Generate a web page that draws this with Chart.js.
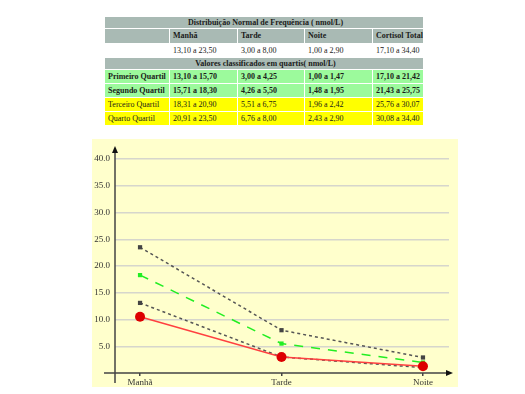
<!DOCTYPE html>
<html>
<head>
<meta charset="utf-8">
<script src="https://cdn.jsdelivr.net/npm/chart.js@4.4.1/dist/chart.umd.min.js"></script>
<style>
  html, body { margin: 0; padding: 0; background: #fff; }
  body { width: 525px; height: 394px; position: relative; overflow: hidden; }
  #tabela {
    position: absolute; left: 104px; top: 16px;
    border-collapse: separate; border-spacing: 1px; table-layout: fixed; width: 320px;
    font-family: "Liberation Serif", "DejaVu Serif", serif; font-size: 8px; color: #1a1a1a;
  }
  #tabela td { padding: 0 0 0 3px; white-space: nowrap; line-height: 10px; overflow: hidden; }
  #tabela .cab { background: #a9bab4; font-weight: bold; text-align: center; height: 11px; }
  #tabela .cab2 td { background: #a9bab4; font-weight: bold; height: 14px; }
  #tabela .branca td { background: #fff; height: 13px; }
  #tabela .verde td { background: #9cfa9c; font-weight: bold; height: 13px; }
  #tabela .amarela td { background: #ffff00; height: 13px; }
  #painel { position: absolute; left: 92px; top: 139px; width: 366px; height: 248px; background: #ffffcc; }
  #grafico { position: absolute; left: 92px; top: 139px; }
</style>
</head>
<body>
<table id="tabela"></table>
<div id="painel"></div>
<canvas id="grafico" width="366" height="248"></canvas>
<script>
// periodos do dia
var periodos = ['Manhã', 'Tarde', 'Noite']
var colunas = ['Manhã', 'Tarde', 'Noite', 'Cortisol Total']
var faixaNormal = ['13,10 a 23,50', '3,00 a 8,00', '1,00 a 2,90', '17,10 a 34,40']
var quartis = ['Primeiro Quartil', 'Segundo Quartil', 'Terceiro Quartil', 'Quarto Quartil']
var faixasQuartis = [
    ['13,10 a 15,70', '3,00 a 4,25', '1,00 a 1,47', '17,10 a 21,42'],
    ['15,71 a 18,30', '4,26 a 5,50', '1,48 a 1,95', '21,43 a 25,75'],
    ['18,31 a 20,90', '5,51 a 6,75', '1,96 a 2,42', '25,76 a 30,07'],
    ['20,91 a 23,50', '6,76 a 8,00', '2,43 a 2,90', '30,08 a 34,40']
]

// valores do grafico (nmol/L)
var paciente = [10.5, 3.0, 1.25]
var maximo = [23.5, 8.0, 2.9]
var mediana = [18.3, 5.5, 1.95]
var minimo = [13.1, 3.0, 1.0]
var ticksY = [5, 10, 15, 20, 25, 30, 35, 40]

// monta a tabela
var tab = document.getElementById('tabela')
var larguras = [64, 67, 66, 67, 50]
var html = '<colgroup>'
for (var i = 0; i < larguras.length; i++) html += '<col style="width:' + larguras[i] + 'px">'
html += '</colgroup>'
html += '<tr><td class="cab" colspan="5">Distribuição Normal de Frequência ( nmol/L)</td></tr>'
html += '<tr class="cab2"><td></td>'
for (var i = 0; i < colunas.length; i++) html += '<td>' + colunas[i] + '</td>'
html += '</tr><tr class="branca"><td></td>'
for (var i = 0; i < faixaNormal.length; i++) html += '<td>' + faixaNormal[i] + '</td>'
html += '</tr><tr><td class="cab" colspan="5">Valores classificados em quartis( nmol/L)</td></tr>'
for (var q = 0; q < quartis.length; q++) {
    html += '<tr class="' + (q < 2 ? 'verde' : 'amarela') + '"><td>' + quartis[q] + '</td>'
    for (var j = 0; j < 4; j++) html += '<td>' + faixasQuartis[q][j] + '</td>'
    html += '</tr>'
}
tab.innerHTML = html

function pontos(arr) {
    return arr.map(function (v, i) { return { x: i, y: v } })
}

// eixos com setas
var eixos = {
    id: 'eixos',
    beforeDatasetsDraw: function (chart) {
        var c = chart.ctx
        var x0 = chart.scales.x.left
        var y0 = chart.scales.y.getPixelForValue(0)
        c.save()
        c.strokeStyle = '#444'
        c.fillStyle = '#111'
        c.lineWidth = 1.5
        c.beginPath()
        c.moveTo(x0, chart.chartArea.top - 10)
        c.lineTo(x0, y0 + 10)
        c.moveTo(x0 - 11, y0)
        c.lineTo(chart.chartArea.right + 1, y0)
        c.stroke()
        c.beginPath()
        c.moveTo(x0, chart.chartArea.top - 13)
        c.lineTo(x0 - 3, chart.chartArea.top - 6)
        c.lineTo(x0 + 3, chart.chartArea.top - 6)
        c.fill()
        c.beginPath()
        c.moveTo(chart.chartArea.right + 4, y0)
        c.lineTo(chart.chartArea.right - 3, y0 - 3)
        c.lineTo(chart.chartArea.right - 3, y0 + 3)
        c.fill()
        c.restore()
    }
}

var fonte = { family: '"Liberation Serif", "DejaVu Serif", serif', size: 9 }

new Chart(document.getElementById('grafico').getContext('2d'), {
    type: 'line',
    data: {
        datasets: [
            { data: pontos(paciente), borderColor: '#ff4040', backgroundColor: '#dd0000', borderWidth: 1.5,
              pointStyle: 'circle', pointRadius: 5, pointBorderWidth: 0 },
            { data: pontos(maximo), borderColor: '#555', backgroundColor: '#444', borderWidth: 1.5, borderDash: [3, 3],
              pointStyle: 'rect', pointRadius: 3, pointBorderWidth: 0 },
            { data: pontos(mediana), borderColor: '#22ee22', backgroundColor: '#22ee22', borderWidth: 1.5, borderDash: [9, 8],
              pointStyle: 'rect', pointRadius: 3, pointBorderWidth: 0 },
            { data: pontos(minimo), borderColor: '#555', backgroundColor: '#444', borderWidth: 1.5, borderDash: [3, 3],
              pointStyle: 'rect', pointRadius: 3, pointBorderWidth: 0 }
        ]
    },
    options: {
        responsive: false,
        animation: false,
        layout: { padding: { top: 20, right: 9, left: 0, bottom: 0 } },
        plugins: { legend: { display: false }, tooltip: { enabled: false } },
        scales: {
            x: {
                type: 'linear', min: -0.177, max: 2.184,
                afterBuildTicks: function (s) { s.ticks = periodos.map(function (p, i) { return { value: i } }) },
                afterFit: function (s) { s.height = 14 },
                border: { display: false },
                grid: { drawOnChartArea: false, drawTicks: true, tickLength: 3, color: '#444', lineWidth: 1.5 },
                ticks: { font: fonte, color: '#333', padding: 1, maxRotation: 0,
                         callback: function (v) { return periodos[v] } }
            },
            y: {
                min: 0, max: 40,
                afterBuildTicks: function (s) { s.ticks = ticksY.map(function (v) { return { value: v } }) },
                afterFit: function (s) { s.width = 23 },
                border: { display: false },
                grid: { drawTicks: false, color: '#d6d6cc', lineWidth: 1.5 },
                ticks: { font: fonte, color: '#333', padding: 5,
                         callback: function (v) { return v.toFixed(1) } }
            }
        }
    },
    plugins: [eixos]
})
</script>
</body>
</html>
